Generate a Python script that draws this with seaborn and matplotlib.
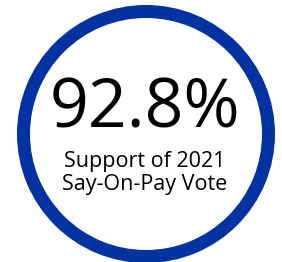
import matplotlib
matplotlib.use("Agg")
import matplotlib.pyplot as plt
import seaborn as sns

# Data
support_pct = 92.8
ring_values = [100]
headline = f"{support_pct}%"
caption_lines = ["Support of 2021", "Say-On-Pay Vote"]

sns.set_theme(style="white")
plt.rcParams['font.family'] = ['Open Sans', 'DejaVu Sans']

W, H = 282, 262
fig = plt.figure(figsize=(W / 100, H / 100), dpi=100)
ax = fig.add_axes([0, 0, 1, 1])

ring_color = "#0033A1"
ax.pie(ring_values, colors=[ring_color], radius=129, center=(146, 134),
       startangle=90, counterclock=False,
       wedgeprops=dict(width=13, edgecolor="none", linewidth=0))

ax.set_xlim(0, W)
ax.set_ylim(H, 0)
ax.set_aspect("auto")
ax.axis("off")

ax.text(145, 127, headline, ha="center", va="baseline", fontsize=49, color="black")
ax.text(145, 167, caption_lines[0], ha="center", va="baseline", fontsize=15.5, color="black")
ax.text(145, 190, caption_lines[1], ha="center", va="baseline", fontsize=15.5, color="black")

fig.savefig("out.png", dpi=100, facecolor="white")
